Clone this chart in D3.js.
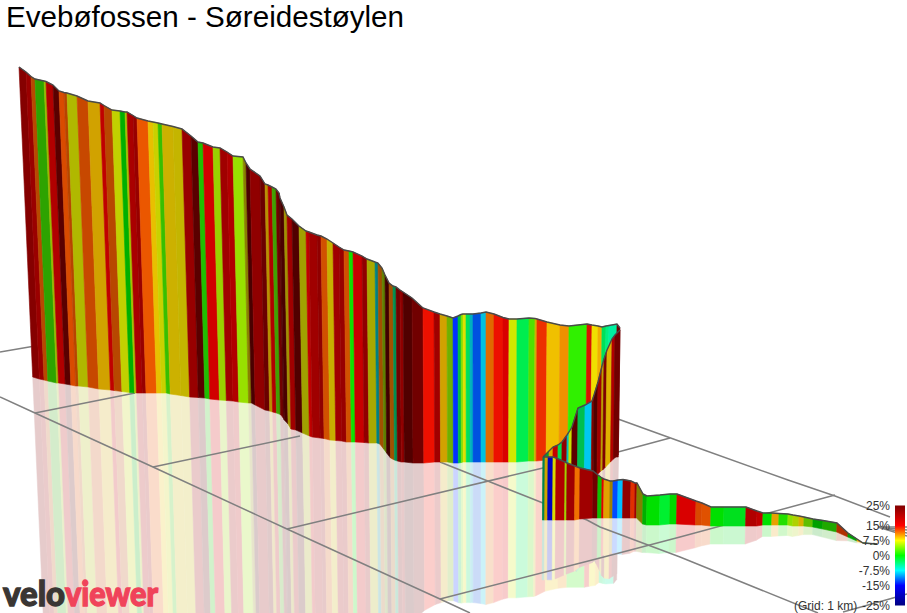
<!DOCTYPE html>
<html><head><meta charset="utf-8">
<style>html,body{margin:0;padding:0;background:#fff;overflow:hidden}svg{display:block}</style>
<script src="https://cdn.jsdelivr.net/npm/d3@7"></script></head>
<body><svg id="c" width="907" height="613"></svg>
<script>
const chartTitle = "Evebøfossen - Søreidestøylen";
const gridNote = "(Grid: 1 km)";
const legendTicks = [25, 15, 7.5, 0, -7.5, -15, -25];
const gradeStops = [-25, -15, -7.5, 0, 7.5, 15, 25];
const gradeColors = ["#000080", "#0000ff", "#00ffff", "#00ff00", "#ffff00", "#ff0000", "#800000"];

// Far wall in projected plot units (along, crest height, foot height)
const farAlong = [19,26,31,35,44,46,53,59,64,67,77,88,100,104,112,120,125,127,133,137,148,153,158,162,173,182,191,198,203,213,220,227,233,243,246,250,260,265,268,272,276,279,280,284,287,292,299,306,309,317,321,327,333,339,344,349,353,362,367,375,378,382,385,389,393,396,400,403,412,423,434,440,447,453,458,461,463,466,470,473,481,486,494,503,509,517,529,535,537,547,560,569,587,592,598,602,606,609,617,620];
const farCrest = [546,541,536.5,534,532,531.5,528,522,520.5,520,517,512,510,507.5,503,502,501,501,497.5,495,492,491,490,489,486.5,484,477,471,470,466,465,461,457,456,450,444,437,429,428,426,424,420,415,406,398,394,387,382,381,378,377,374,370,366,363,362,361,357,354,351,350,345,338,330,327,326,323,321,315,305,301,299,297,295,297,298.5,299,299,299,299,300,301,299,295.5,294,294,295,294.5,294,291,288,287,289,288,287,286,287,287.5,289,285];
const farFoot = [236,234,233,232,230,230,229,228,227,227,226,224,223,222.5,221.5,220.5,220,220,220,220,220,220,220,219,217.5,216,215.5,215,214,213,212.5,212,211,210,210,208,203,202,201,200,198.5,195,193,189,184,183,180,177,176,175,174.5,173,172.5,172,171,171,171,170.5,170,170,169,164,160,155,153,152,151,151,150,150,151,151,151,150,150,150.5,151,151,151,151,151,151,151,151,151,151,152,152,152,153,153,153,154,154,154,155,155,155,156,156];
const farGrade = [22,20,12,2.1,6.3,17.7,25,12.4,12.2,7.2,12.3,9.2,16.2,12.1,6.9,0,6.6,18.5,20.1,12.2,8.8,7.2,2.2,8.5,8.1,20.1,25,1.25,15,5.5,19.3,17.7,5.1,8,25,20.9,23,9.1,17.7,3,22.4,25,25,8.25,19.3,25,7.5,16.2,19.3,20.9,12.1,8.4,19.3,20.1,12.1,0.5,15,20.9,7.5,-7.5,11.25,5.6,25,11.25,-4.2,22.4,20.9,25,22.4,14.5,19.3,9.2,4.8,-13.6,-2.5,4.3,7.5,-3,-8.1,-12.3,-8.6,11.5,14.5,15,6.7,-2.5,2.7,8.7,13.5,9,10.5,1.5,14.4,8,9.5,-3,-4,-5,22.4];
const farShade = [.8,.8,.72,.64,.72,.8,.7,.85,.72,.72,.78,.82,.8,.72,.82,.69,.75,.8,.8,.92,.91,.82,.75,.8,.77,.8,.7,.75,.82,.82,.8,.8,.88,.54,.58,.8,.7,.72,.8,.63,.7,.63,.58,.63,.8,.63,.63,.8,.8,.8,.82,.78,.8,.8,.82,.88,.78,.8,.66,.5,.63,.5,.5,.63,.56,.7,.8,.63,.7,.93,.8,.82,.69,1,.75,.88,.88,.88,.75,.88,.88,.88,.93,.85,.91,.93,.88,.82,.93,.94,.94,.94,.85,.94,.94,.88,.94,.94,.7];

// Curved return section
const bendAlong = [543,549,553,558,562,567,569,572,578,585,592,594,598,602,604,607,612,615,620];
const bendCrest = [156,162,166,168,171,178,181,186,205,208,212,218,231,247,254,263,274,278,283];
const bendFoot = [93,98,101,105,108,112,114,116,121,127,133,135,138,142,143,146,151,154,158];
const bendGrade = [-2.25,9.6,15,-2.7,20.9,-7.5,6.7,24,-3.1,-8.75,22.5,25,19.3,8.75,22.5,9.1,17.7,22.4];
const bendShade = [.63,.88,.78,.88,.8,.75,.88,.65,.75,.94,.8,.63,.8,.75,.8,.88,.8,.7];

// Near wall with its low tail
const nearAlong = [543,545,548,553,556,565,567,575,580,593,598,602,604,610,613,618,623,631,635,637,643,647,660,670,677,696,702,711,724,746,757,763,772,779,788,793,799,804,813,823,837,848,857,863,877];
const nearCrest = [156,156,156,156,155,151,150,147,145,142,138,135,134,132,132,133,133.5,132,130,130,119,117,118,119,119,112,110,106,106,106,102,100,100,99.5,99,98,97,96,94,92.5,90,80,74,70,69];
const nearFoot = [93,93,93,93,93,93,93,93,94,95,95,95,95,95,95,95,95,95,95,95,89,88,88,89,89,88,88,87,87,87,87,88,88,88,88,87,87,87,86,84,81,76,72,70,69];
const nearGrade = [-5,9.2,-15,7.5,17.7,5.8,19.3,11.5,19.3,22.4,.6,15,9.6,9,-12.8,-9.4,20.9,13.4,19.3,7.5,0,0,-1.5,0,15,12.5,12.3,0,-1,17.7,16.2,0,9.8,1.1,4.8,6.3,8.9,3.75,0,1.4,13,0,9.8,0];
const nearShade = [.5,.82,.75,.85,.8,.82,.8,.94,.8,.7,.75,.88,.88,.63,1,1,.8,.88,.8,.5,.69,.88,.94,.85,.85,.85,.88,.88,.88,.8,.8,.88,.91,.88,.88,.82,.85,.75,.63,.66,.69,.63,.91,.63];

// Ground grid lines: [along0, height0, along1, height1]
const gridLines = [
 [0,261,35,267],
 [0,216,35,200,153,146,287,84,440,14,470,0],
 [35,200,135,220],
 [153,146,300,177],
 [287,84,543,145,618,161,670,175],
 [440,14,600,55,680,76,835,118],
 [440,151,543,110,587,93,600,86,680,56,818,0],
 [600,203,618,194,690,168,788,133,835,117,890,96],
 [843,1,893,15,907,19],
 [878,86,907,86],[878,86,907,83],[878,86,907,80],[878,86,907,77]
];

const svg = d3.select("#c");
const W = 907, H = 613;
const sx = d3.scaleLinear().domain([0, W]).range([0, W]);
const sy = d3.scaleLinear().domain([0, H]).range([H, 0]);
const gradeScale = d3.scaleLinear().domain(gradeStops).range(gradeColors).interpolate(d3.interpolateRgb).clamp(true);

function shaded(g, s) {
  const c = d3.rgb(gradeScale(g));
  return d3.rgb(c.r * s, c.g * s, c.b * s).formatHex();
}
// Verticals lean toward a far vanishing point below the scene
const lean = (a, c, f) => a + (480 - a) / 480 * 0.046 * (c - f);
const reflectGain = 0.95;

function stations(along, crest, foot) {
  return along.map((a, i) => {
    const bx = lean(a, crest[i], foot[i]);
    const d = crest[i] - foot[i];
    return { tx: sx(a), ty: sy(crest[i]), bx: sx(bx), by: sy(foot[i]),
             rx: sx(bx + (bx - a) * reflectGain), ry: sy(foot[i] - d * reflectGain) };
  });
}
const poly = d3.line();
const walls = [
  { st: stations(farAlong, farCrest, farFoot), g: farGrade, s: farShade },
  { st: stations(bendAlong, bendCrest, bendFoot), g: bendGrade, s: bendShade },
  { st: stations(nearAlong, nearCrest, nearFoot), g: nearGrade, s: nearShade }
];
const strips = w => w.g.map((g, i) => ({ a: w.st[i], b: w.st[i + 1], color: shaded(g, w.s[i]) }));

// Reflections on the ground
const refl = svg.append("g").attr("opacity", 0.2);
walls.forEach(w => {
  refl.append("g").selectAll("path").data(strips(w)).join("path")
    .attr("d", d => poly([[d.a.bx, d.a.by], [d.b.bx, d.b.by], [d.b.rx, d.b.ry], [d.a.rx, d.a.ry]]) + "Z")
    .attr("fill", d => d.color).attr("stroke", d => d.color).attr("stroke-width", 0.5);
});

// Grid
svg.append("g").selectAll("path").data(gridLines).join("path")
  .attr("d", d => poly(d3.range(0, d.length, 2).map(i => [sx(d[i]), sy(d[i + 1])])))
  .attr("fill", "none").attr("stroke", "#808080").attr("stroke-width", 1.5);

// Walls
walls.forEach(w => {
  const g = svg.append("g");
  g.selectAll("path").data(strips(w)).join("path")
    .attr("d", d => poly([[d.a.tx, d.a.ty], [d.b.tx, d.b.ty], [d.b.bx, d.b.by], [d.a.bx, d.a.by]]) + "Z")
    .attr("fill", d => d.color).attr("stroke", d => d.color).attr("stroke-width", 0.6);
  g.append("path").attr("d", poly(w.st.map(p => [p.tx, p.ty])))
    .attr("fill", "none").attr("stroke", "#4a4a4a").attr("stroke-width", 1.4);
});

// Title
svg.append("text").attr("x", 6).attr("y", 27).text(chartTitle)
  .attr("font-family", "Liberation Sans, Arial, sans-serif").attr("font-size", 29.6).attr("fill", "#000");

// Legend
const ly = d3.scaleLinear().domain([-25, 25]).range([605.5, 505.5]);
const defs = svg.append("defs");
const lg = defs.append("linearGradient").attr("id", "lg").attr("x1", 0).attr("x2", 0).attr("y1", 0).attr("y2", 1);
lg.selectAll("stop").data(gradeStops.slice().reverse()).join("stop")
  .attr("offset", d => (25 - d) / 50).attr("stop-color", d => gradeScale(d));
svg.append("rect").attr("x", 895).attr("y", ly(25)).attr("width", 10).attr("height", ly(-25) - ly(25)).attr("fill", "url(#lg)");
svg.append("g").selectAll("text").data(legendTicks).join("text")
  .attr("x", 890).attr("y", d => ly(d)).attr("dy", "0.35em").attr("text-anchor", "end")
  .attr("font-family", "Liberation Sans, Arial, sans-serif").attr("font-size", 12).attr("fill", "#333")
  .text(d => d + "%");
svg.append("text").attr("x", 794).attr("y", ly(-25)).attr("dy", "0.35em").text(gridNote)
  .attr("font-family", "Liberation Sans, Arial, sans-serif").attr("font-size", 12).attr("fill", "#333");

// Logo
function logoPart(txt, x, len, col) {
  svg.append("text").attr("x", x).attr("y", 606).text(txt)
    .attr("font-family", "Lato, sans-serif").attr("font-weight", 900).attr("font-size", 35)
    .attr("textLength", len).attr("lengthAdjust", "spacingAndGlyphs")
    .attr("fill", col).attr("stroke", col).attr("stroke-width", 1.3);
}
logoPart("velo", 3, 62, "#3a3633");
logoPart("viewer", 65, 93, "#f0435a");
</script></body></html>
